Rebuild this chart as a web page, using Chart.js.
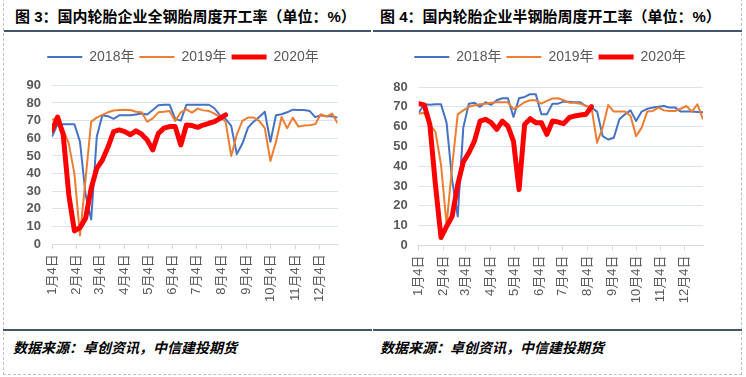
<!DOCTYPE html>
<html><head><meta charset="utf-8">
<script src="https://cdn.jsdelivr.net/npm/chart.js@4.4.1/dist/chart.umd.min.js"></script>
<style>
body{margin:0;background:#fff;width:746px;height:377px;overflow:hidden;position:relative;font-family:"Liberation Sans","Noto Sans CJK SC",sans-serif;}
.frame{position:absolute;left:3px;top:-2px;width:739px;height:377px;border:1px dashed #bfbfbf;box-sizing:border-box;}
.title{position:absolute;top:9px;font-size:15px;line-height:15px;font-weight:bold;color:#000;white-space:nowrap;}
.rule{position:absolute;height:2px;background:#44546a;}
.src{position:absolute;top:340px;font-size:14px;line-height:14px;font-weight:bold;font-style:italic;color:#000;white-space:nowrap;font-family:"Noto Sans CJK SC",sans-serif;}
canvas{position:absolute;top:36px;}
</style></head><body>
<div class="frame"></div>
<div class="title" style="left:15px">图 3：国内轮胎企业全钢胎周度开工率（单位：%）</div>
<div class="title" style="left:380px">图 4：国内轮胎企业半钢胎周度开工率（单位：%）</div>
<div class="rule" style="left:4px;top:30px;width:367px"></div>
<div class="rule" style="left:373px;top:30px;width:369px"></div>
<div class="rule" style="left:3px;top:329px;width:369px"></div>
<div class="rule" style="left:373px;top:329px;width:369px"></div>
<div class="src" style="left:13px">数据来源：卓创资讯，中信建投期货</div>
<div class="src" style="left:380px">数据来源：卓创资讯，中信建投期货</div>
<canvas id="c1" width="366" height="292" style="left:0px"></canvas>
<canvas id="c2" width="354" height="292" style="left:373px"></canvas>
<script>
const seriesLabels = ['2018年', '2019年', '2020年'];
const monthTickLabels = ['1月4日','2月4日','3月4日','4月4日','5月4日','6月4日','7月4日','8月4日','9月4日','10月4日','11月4日','12月4日'];
const monthTickDays = [4, 35, 63, 94, 124, 155, 185, 216, 247, 277, 308, 338];
// weekly observation dates (day of year), one per week starting 1月4日
const weekDays = [4,11,18,25,32,39,46,53,60,67,74,81,88,95,102,109,116,123,130,137,144,151,158,165,172,179,186,193,200,207,214,221,228,235,242,249,256,263,270,277,284,291,298,305,312,319,326,333,340,347,354,361];

// 全钢胎 (all-steel)
const steel2018 = [61,68,68,68,68,58,28,14,61,73, 72.5,71,73,73,73,73.5,74,73.5,76,78.7, 79,79,71,70,79,79,79,79,79,77, 73,71,67,51,57,66,69.4,72,75,58, 73,73.6,74.7,76.2,76,76,75.5,72,73,72.5, 72.5,71.7];
const steel2019 = [70.4,71.7,65,57,40,5,37,69.4,71.7,73.2, 74.7,75.7,76,76.2,76,75,74.7,69.4,71.3,74.7, 75,75.5,69.8,74.7,76.4,74.5,76.8,75.8,75.5,74, 72,69.4,50,62,69.8,71.7,71.7,69.8,65.7,47.2, 58,72,65.7,71.7,66.6,67.2,67.4,68,73.6,72.3, 74,68.5];
const steel2020 = [64.5,72,62,28,7.5,9.4,14.7,31.7,43,47.7, 55,63.8,64.7,63.8,62,64.2,62.3,59,53.4,62.8, 65.7,66.6,66.6,56.2,67.5,67.2,66.2,67.5,68.5,69.4, 71.3,73.2];

// 半钢胎 (semi-steel)
const semi2018 = [67,71.3,71,71.3,71.3,62,33,14.7,59.5,71.6, 72,70,72.3,71,73.3,74.3,74.3,64.9,74.3,75, 76.4,76.4,66.2,66.2,71.6,71.6,72.6,72.6,72.3,72.3, 70.4,69.6,67.6,55.2,53.5,54.4,63.7,66.2,68.2,62.8, 67.6,69,69.6,70,70.4,69.6,69.6,67.6,67.6,67.6, 67.4,67.2];
const semi2019 = [66.5,67,61,57.4,40.9,10.5,40,66.2,68.2,70, 70.8,71.3,71.6,72.1,72.3,72.3,72.3,68.8,70.4,72.3, 73.3,73.3,71.6,73,74.2,74.3,73.3,72.1,72.1,71.6, 70.4,69.6,51.9,59.5,70.9,67.6,67.6,67.6,65.4,55.2, 59.5,67.6,67.9,69.6,68.2,67.9,67.9,69,70.4,67.6, 71.3,63.7];
const semi2020 = [71.6,71,61.1,30.7,4,9.6,14.7,30.7,42.2,46.8, 52.7,62.8,63.7,62,58.6,62.8,60.3,52.7,28.2,61.1, 64,62,62,56.1,62.8,62.3,61.5,64.5,65.4,65.9, 66.2,70.1];

const F = '"Liberation Sans", "Noto Sans CJK SC", sans-serif';
const colors = ['#4472C4', '#ED7D31', '#FF0000'];
const widths = [2, 2, 5];
const LEGEND_TOP = 9;

function pts(vals){ return vals.map((v, i) => ({x: weekDays[i], y: v})); }

function makeChart(id, series, yMax, yW, padRight, topPad, xH){
  const legendGap = {
    id: 'legendGap',
    afterInit(chart){
      const lg = chart.legend;
      if (lg && !lg._patched) {
        const orig = lg.fit.bind(lg);
        lg.fit = function(){ orig(); this.height = topPad - LEGEND_TOP; };
        lg._patched = true;
      }
    }
  };
  return new Chart(document.getElementById(id), {
    type: 'line',
    plugins: [legendGap],
    data: {
      datasets: series.map((s, k) => ({
        label: seriesLabels[k], data: pts(s), borderColor: colors[k], backgroundColor: colors[k],
        borderWidth: widths[k], order: 3 - k, pointRadius: 0, pointHoverRadius: 0,
        tension: 0, fill: false, borderJoinStyle: 'round', borderCapStyle: k === 2 ? 'round' : 'butt'
      }))
    },
    options: {
      responsive: false, animation: false, devicePixelRatio: 1,
      layout: {padding: {top: LEGEND_TOP, left: 0, right: 0, bottom: 0}},
      plugins: {
        tooltip: {enabled: false},
        legend: {
          position: 'top',
          labels: {
            usePointStyle: true, pointStyle: 'line', pointStyleWidth: 35, boxWidth: 35, padding: 5,
            color: '#595959', font: {size: 14, family: F},
            generateLabels(chart){
              return chart.data.datasets.map((ds, i) => ({
                text: ds.label, strokeStyle: ds.borderColor, fillStyle: ds.borderColor,
                lineWidth: ds.borderWidth, pointStyle: 'line', lineCap: 'butt',
                fontColor: '#595959', hidden: false, datasetIndex: i
              }));
            }
          }
        }
      },
      scales: {
        x: {
          type: 'linear', min: 4, max: 361,
          afterBuildTicks(s){ s.ticks = monthTickDays.map(v => ({value: v})); },
          afterFit(s){ s.height = xH; s.paddingLeft = 0; s.paddingRight = padRight; },
          ticks: {
            autoSkip: false, maxRotation: 90, minRotation: 90, padding: 5,
            color: '#595959', font: {size: 13, family: F},
            callback(v){ const k = monthTickDays.indexOf(v); return k >= 0 ? monthTickLabels[k] : ''; }
          },
          grid: {drawOnChartArea: false, drawTicks: true, tickLength: 5, color: '#d9d9d9'},
          border: {display: true, color: '#d9d9d9', width: 1}
        },
        y: {
          min: 0, max: yMax,
          afterFit(s){ s.width = yW; s.paddingTop = topPad; },
          ticks: {stepSize: 10, autoSkip: false, padding: 11, color: '#595959', font: {size: 13, weight: 'bold', family: F}},
          grid: {color: '#d9e1f2', drawTicks: false, lineWidth: 1},
          border: {display: false}
        }
      }
    }
  });
}

makeChart('c1', [steel2018, steel2019, steel2020], 90, 52, 28.4, 49.3, 83.8);
makeChart('c2', [semi2018, semi2019, semi2020], 80, 45.7, 24, 51, 82.5);
</script>
</body></html>
